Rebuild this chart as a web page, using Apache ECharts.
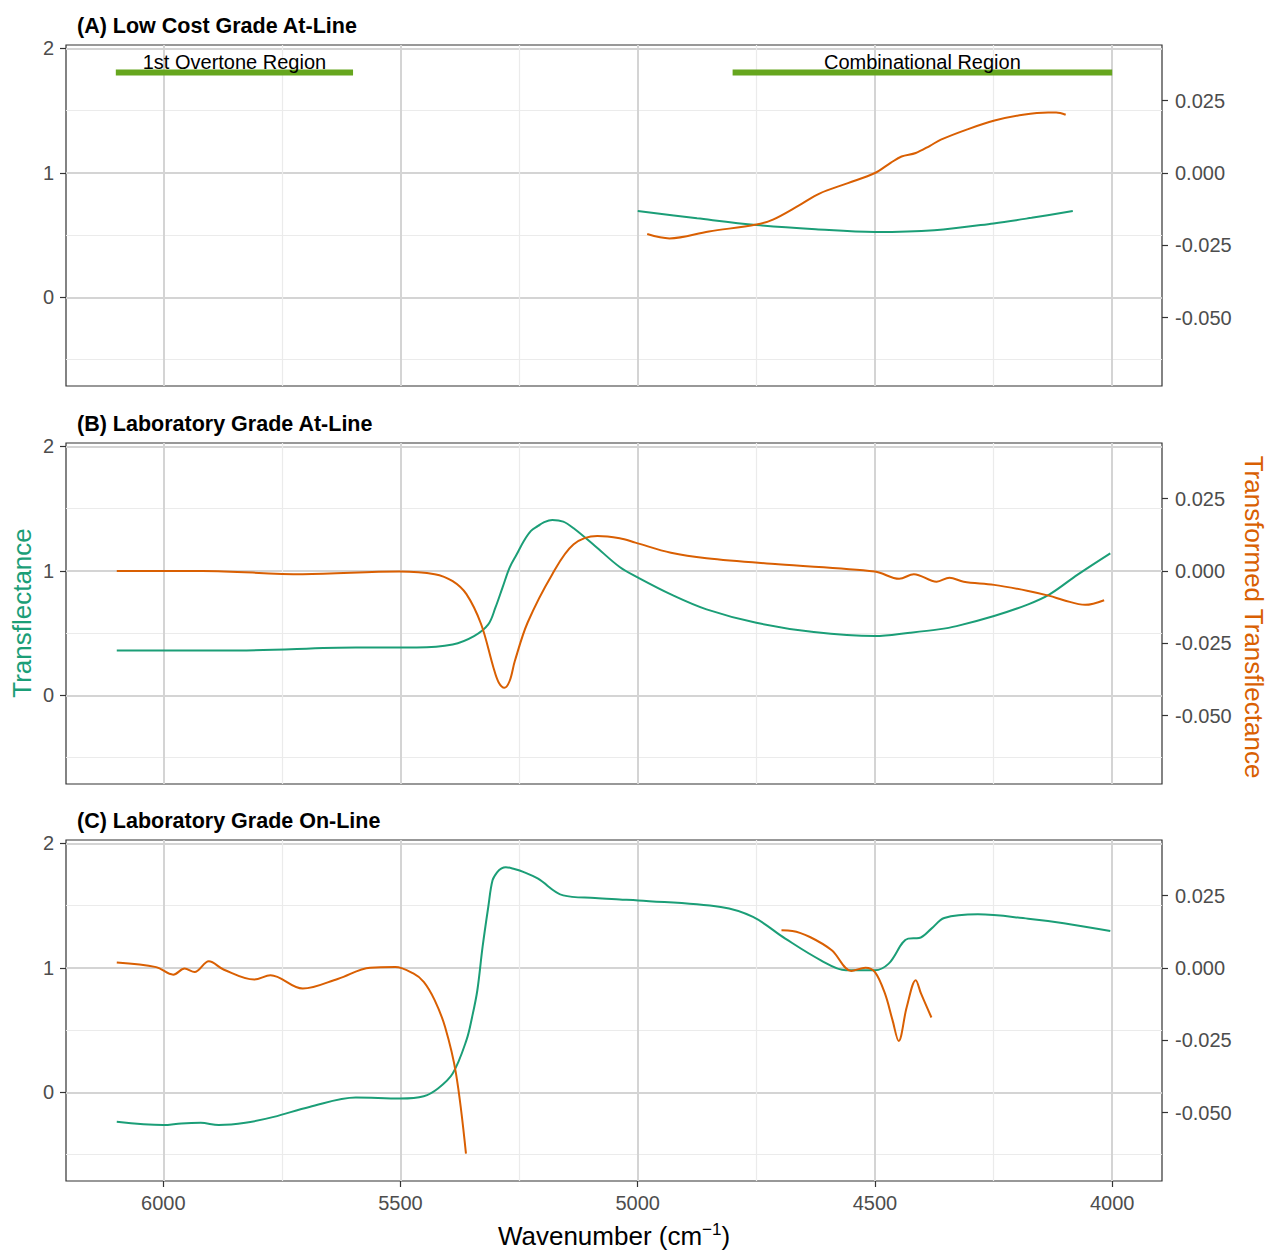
<!DOCTYPE html>
<html>
<head>
<meta charset="utf-8">
<script src="https://cdn.jsdelivr.net/npm/echarts@6/dist/echarts.min.js"></script>
<style>
html,body{margin:0;padding:0;background:#fff;}
#chart{width:1269px;height:1252px;}
</style>
</head>
<body>
<div id="chart"></div>
<script>
// ---------------- data ----------------
const panelTitles = ['(A) Low Cost Grade At-Line', '(B) Laboratory Grade At-Line', '(C) Laboratory Grade On-Line'];
const xMajorTicks = [6000, 5500, 5000, 4500, 4000];
const xMinorTicks = [5750, 5250, 4750, 4250];
const leftTicks = [0, 1, 2];
const leftMinorTicks = [-0.5, 0.5, 1.5];
const rightTicks = [-0.05, -0.025, 0, 0.025];

const regionNames = ['1st Overtone Region', 'Combinational Region'];
const regionStart = [6100, 4800];
const regionEnd = [5600, 4000];
const regionLevel = [1.807, 1.807];

// Panel A
const aGreenWave = [5000, 4875, 4750, 4625, 4500, 4375, 4250, 4170, 4083];
const aGreen = [0.694, 0.636, 0.582, 0.548, 0.526, 0.540, 0.595, 0.640, 0.694];
const aOrangeWave = [4980, 4933, 4850, 4750, 4715, 4660, 4617, 4557, 4500, 4467, 4444, 4414, 4384, 4361, 4308, 4248, 4188, 4135, 4118, 4098];
const aOrange = [-0.0211, -0.0226, -0.0202, -0.0178, -0.0161, -0.0112, -0.0071, -0.0035, 0.0000, 0.0035, 0.0057, 0.0069, 0.0094, 0.0115, 0.0149, 0.0181, 0.0201, 0.0209, 0.0209, 0.0201];

// Panel B
const bGreenWave = [6098, 5842, 5594, 5466, 5390, 5345, 5315, 5300, 5285, 5270, 5255, 5240, 5225, 5210, 5199, 5180, 5157, 5135, 5090, 5038, 4999, 4930, 4855, 4750, 4629, 4500, 4426, 4366, 4328, 4249, 4177, 4132, 4072, 4004];
const bGreen = [0.362, 0.362, 0.386, 0.386, 0.410, 0.477, 0.571, 0.705, 0.866, 1.027, 1.134, 1.241, 1.322, 1.362, 1.389, 1.410, 1.397, 1.343, 1.201, 1.032, 0.946, 0.812, 0.692, 0.584, 0.509, 0.477, 0.504, 0.531, 0.557, 0.638, 0.732, 0.812, 0.973, 1.142];
const bOrangeWave = [6098, 5917, 5706, 5503, 5428, 5390, 5361, 5330, 5304, 5293, 5281, 5270, 5259, 5232, 5180, 5135, 5085, 5038, 5005, 4930, 4855, 4704, 4500, 4449, 4418, 4370, 4343, 4313, 4249, 4177, 4132, 4102, 4057, 4017];
const bOrange = [0.0000, 0.0000, -0.0011, -0.0002, -0.0011, -0.0035, -0.0080, -0.0184, -0.0334, -0.0385, -0.0403, -0.0380, -0.0311, -0.0178, -0.0011, 0.0092, 0.0121, 0.0113, 0.0098, 0.0063, 0.0044, 0.0023, -0.0002, -0.0027, -0.0011, -0.0037, -0.0023, -0.0037, -0.0048, -0.0069, -0.0086, -0.0101, -0.0117, -0.0101];

// Panel C
const cGreenWave = [6098, 6000, 5962, 5921, 5883, 5827, 5767, 5692, 5594, 5500, 5451, 5421, 5390, 5361, 5349, 5338, 5327, 5315, 5306, 5296, 5287, 5278, 5260, 5240, 5210, 5157, 5090, 5038, 4999, 4825, 4757, 4689, 4614, 4561, 4500, 4471, 4430, 4407, 4381, 4354, 4283, 4177, 4102, 4004];
const cGreen = [-0.236, -0.262, -0.249, -0.244, -0.262, -0.244, -0.196, -0.116, -0.040, -0.048, -0.030, 0.032, 0.152, 0.420, 0.607, 0.821, 1.169, 1.490, 1.704, 1.770, 1.800, 1.810, 1.795, 1.770, 1.717, 1.583, 1.562, 1.551, 1.543, 1.490, 1.410, 1.236, 1.062, 0.982, 0.982, 1.035, 1.236, 1.241, 1.316, 1.401, 1.431, 1.396, 1.360, 1.297];
const cOrange1Wave = [6098, 6015, 5979, 5955, 5934, 5904, 5872, 5808, 5774, 5706, 5631, 5564, 5511, 5473, 5451, 5428, 5406, 5383, 5362];
const cOrange1 = [0.0019, 0.0003, -0.0023, -0.0002, -0.0014, 0.0023, -0.0006, -0.0040, -0.0025, -0.0071, -0.0037, 0.0001, 0.0003, -0.0019, -0.0048, -0.0111, -0.0204, -0.0365, -0.0641];
const cOrange2Wave = [4697, 4674, 4637, 4591, 4550, 4520, 4500, 4479, 4463, 4450, 4433, 4414, 4403, 4381];
const cOrange2 = [0.0130, 0.0128, 0.0107, 0.0061, -0.0010, 0.0001, -0.0014, -0.0088, -0.0180, -0.0252, -0.0135, -0.0042, -0.0088, -0.0171];

// ---------------- layout / style ----------------
const FONT = 'Liberation Sans, Arial, Helvetica, sans-serif';
const GREEN = '#1b9e77', ORANGE = '#d95f02', BAR = '#66a61e';
const X_MIN = 3895, X_MAX = 6205;
const LEFT_MIN = -0.711, LEFT_MAX = 2.028;
const K = 0.043; // right = (left - 1) * K
const RIGHT_MIN = (LEFT_MIN - 1) * K, RIGHT_MAX = (LEFT_MAX - 1) * K;
const gridTops = [45, 443, 840];
const GRID_H = 341;

const zip = (w, v) => w.map((x, i) => [x, v[i]]);

const grids = [], xAxes = [], yAxes = [], series = [], graphics = [];

for (let p = 0; p < 3; p++) {
  grids.push({left: 66, right: 107, top: gridTops[p], height: GRID_H, show: true,
    borderColor: '#333333', borderWidth: 1.2, backgroundColor: 'transparent'});
  const last = p === 2;
  // major x
  xAxes.push({type: 'value', gridIndex: p, inverse: true, min: X_MIN, max: X_MAX, position: 'bottom',
    axisLine: {show: false, onZero: false},
    axisTick: {show: last, customValues: xMajorTicks, length: 6, lineStyle: {color: '#333', width: 1.2}},
    axisLabel: {show: last, customValues: xMajorTicks, margin: 12, fontSize: 20, color: '#4d4d4d', fontFamily: FONT,
      formatter: v => String(v)},
    splitLine: {show: true, lineStyle: {color: '#d4d4d4', width: 2}}});
  // minor x
  xAxes.push({type: 'value', gridIndex: p, inverse: true, min: X_MIN, max: X_MAX, position: 'top',
    axisLine: {show: false, onZero: false}, axisTick: {show: false, customValues: xMinorTicks},
    axisLabel: {show: false, customValues: xMinorTicks},
    splitLine: {show: true, lineStyle: {color: '#ebebeb', width: 1.2}}});
  // left major
  yAxes.push({type: 'value', gridIndex: p, position: 'left', min: LEFT_MIN, max: LEFT_MAX,
    axisLine: {show: false, onZero: false},
    axisTick: {show: true, customValues: leftTicks, length: 6, lineStyle: {color: '#333', width: 1.2}},
    axisLabel: {show: true, customValues: leftTicks, margin: 12, fontSize: 20, color: '#4d4d4d', fontFamily: FONT,
      formatter: v => String(v)},
    splitLine: {show: true, lineStyle: {color: '#d4d4d4', width: 2}}});
  // right
  yAxes.push({type: 'value', gridIndex: p, position: 'right', min: RIGHT_MIN, max: RIGHT_MAX,
    axisLine: {show: false, onZero: false},
    axisTick: {show: true, customValues: rightTicks, length: 6, lineStyle: {color: '#333', width: 1.2}},
    axisLabel: {show: true, customValues: rightTicks, margin: 13, fontSize: 20, color: '#4d4d4d', fontFamily: FONT,
      formatter: v => v.toFixed(3)},
    splitLine: {show: false}});
  // left minor
  yAxes.push({type: 'value', gridIndex: p, position: 'left', min: LEFT_MIN, max: LEFT_MAX,
    axisLine: {show: false, onZero: false}, axisTick: {show: false, customValues: leftMinorTicks},
    axisLabel: {show: false, customValues: leftMinorTicks},
    splitLine: {show: true, lineStyle: {color: '#ebebeb', width: 1.2}}});

  graphics.push({type: 'text', left: 77, top: gridTops[p] - 30,
    style: {text: panelTitles[p], font: 'bold 21.5px ' + FONT, fill: '#000'}});
}

function lineSeries(p, yIdx, data, color, width) {
  return {type: 'line', xAxisIndex: p * 2, yAxisIndex: p * 3 + yIdx, data: data,
    showSymbol: false, symbol: 'none', smooth: 0.35, z: 3,
    lineStyle: {color: color, width: width || 2}, silent: true, animation: false};
}

series.push(lineSeries(0, 0, zip(aGreenWave, aGreen), GREEN));
series.push(lineSeries(0, 1, zip(aOrangeWave, aOrange), ORANGE));
series.push(lineSeries(1, 0, zip(bGreenWave, bGreen), GREEN));
series.push(lineSeries(1, 1, zip(bOrangeWave, bOrange), ORANGE));
series.push(lineSeries(2, 0, zip(cGreenWave, cGreen), GREEN));
series.push(lineSeries(2, 1, zip(cOrange1Wave, cOrange1), ORANGE));
series.push(lineSeries(2, 1, zip(cOrange2Wave, cOrange2), ORANGE));

// region bars + labels (panel A)
regionNames.forEach((name, i) => {
  series.push({type: 'line', xAxisIndex: 0, yAxisIndex: 0, smooth: false, symbol: 'none', z: 4,
    data: [[regionStart[i], regionLevel[i]], [regionEnd[i], regionLevel[i]]],
    lineStyle: {color: BAR, width: 6, cap: 'butt'}, silent: true, animation: false});
  series.push({type: 'scatter', xAxisIndex: 0, yAxisIndex: 0, z: 5, symbolSize: 2,
    itemStyle: {color: 'rgba(0,0,0,0)'},
    data: [[(regionStart[i] + regionEnd[i]) / 2, regionLevel[i]]],
    label: {show: true, position: 'top', distance: 0, formatter: name, fontSize: 20,
      color: '#000', fontFamily: FONT, opacity: 1}, labelLayout: {hideOverlap: false},
    silent: true, animation: false});
});

// axis titles
graphics.push({type: 'text', x: 22, y: 613, rotation: Math.PI / 2,
  style: {text: 'Transflectance', font: '26px ' + FONT, fill: GREEN, textAlign: 'center', textVerticalAlign: 'middle'}});
graphics.push({type: 'text', x: 1254, y: 617, rotation: -Math.PI / 2,
  style: {text: 'Transformed Transflectance', font: '26px ' + FONT, fill: ORANGE, textAlign: 'center', textVerticalAlign: 'middle'}});
graphics.push({type: 'text', x: 614, y: 1236,
  style: {text: '{a|Wavenumber (cm}{s|−1}{a|)}', textAlign: 'center', textVerticalAlign: 'middle',
    rich: {a: {fontSize: 26, fontFamily: FONT, color: '#000', lineHeight: 30},
           s: {fontSize: 17, fontFamily: FONT, color: '#000', lineHeight: 16, verticalAlign: 'top'}}}});

const chart = echarts.init(document.getElementById('chart'), null, {renderer: 'svg'});
chart.setOption({
  animation: false,
  backgroundColor: '#ffffff',
  grid: grids, xAxis: xAxes, yAxis: yAxes, series: series, graphic: graphics
});
</script>
</body>
</html>
